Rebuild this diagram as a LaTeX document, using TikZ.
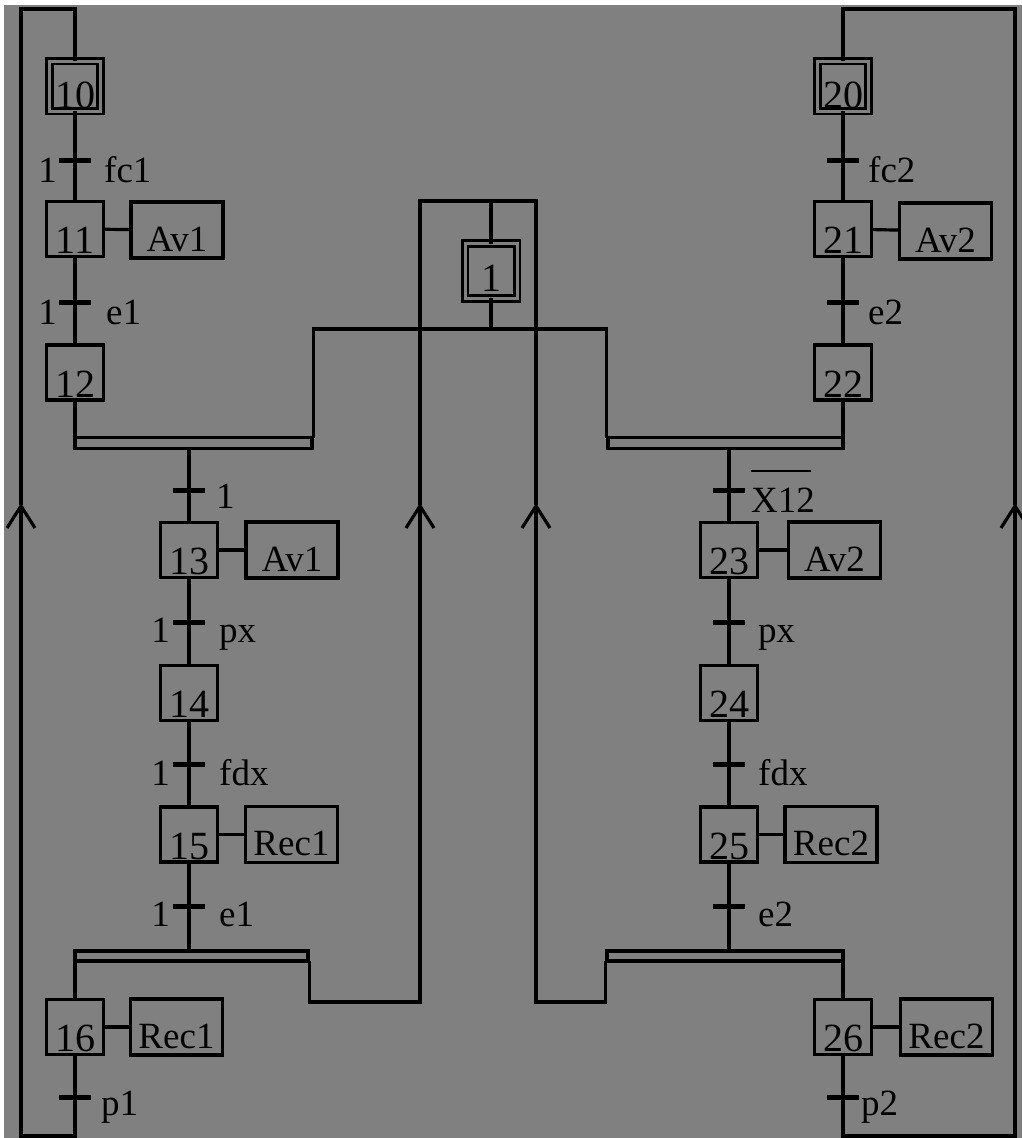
\documentclass[tikz,border=0pt]{standalone}
\usepackage{fontspec}
\setmainfont{Liberation Serif}
\usetikzlibrary{arrows.meta}
\definecolor{bggrey}{RGB}{128,128,128}
\tikzset{
  lw/.style={line width=3.2pt},
  stp/.style={draw, lw, inner sep=0pt, minimum width=57pt, text height=52pt, text depth=3pt, align=center,
     font=\fontsize{40}{44}\selectfont},
  initstp/.style={draw, line width=2.6pt, double=bggrey, double distance=3pt, inner sep=0pt,
     minimum width=51pt, text height=47pt, text depth=3pt, align=center, font=\fontsize{40}{44}\selectfont},
  act/.style={draw, lw, inner sep=0pt, minimum width=92pt, text height=49pt, text depth=7pt, align=center},
  tk/.style={fill=black, inner sep=0pt, minimum width=32pt, minimum height=5pt},
  bar/.style={draw, lw, inner sep=0pt, minimum height=11pt},
  rlab/.style={anchor=base west, inner sep=0pt},
  llab/.style={anchor=base east, inner sep=0pt},
  up/.style={lw, -{Straight Barb[length=22pt, width=28pt, line width=3.2pt]}},
}
\begin{document}
\begin{tikzpicture}[x=1pt, y=-1pt, font=\fontsize{37}{42}\selectfont, line cap=rect]
\useasboundingbox (0,0) rectangle (1022,1138);
\fill[white] (0,0) rectangle (1022,1138);
\fill[bggrey] (4,5) rectangle (1022,1138);

% ---------- steps ----------
\node[initstp] (s10) at (75,86) {10};
\node[stp] (s11) at (75,229) {11};
\node[stp] (s12) at (75,372.5) {12};
\node[stp] (s13) at (189,550) {13};
\node[stp] (s14) at (189,693) {14};
\node[stp] (s15) at (189,834.5) {15};
\node[stp] (s16) at (75,1027) {16};

\node[initstp] (s20) at (843,86) {20};
\node[stp] (s21) at (843,229) {21};
\node[stp] (s22) at (843,372.5) {22};
\node[stp] (s23) at (729,550) {23};
\node[stp] (s24) at (729,693) {24};
\node[stp] (s25) at (729,834.5) {25};
\node[stp] (s26) at (843,1027) {26};

\node[initstp, minimum width=52pt, text height=48pt, text depth=7pt] (s1) at (491,271) {1};

% ---------- actions ----------
\node[act] (a11) at (177,230) {Av1};
\node[act] (a13) at (292,550) {Av1};
\node[act] (a15) at (291.5,834.5) {Rec1};
\node[act] (a16) at (176.5,1027) {Rec1};
\node[act] (a21) at (945.5,231) {Av2};
\node[act] (a23) at (834.5,550) {Av2};
\node[act] (a25) at (831,834.5) {Rec2};
\node[act] (a26) at (946.5,1027) {Rec2};

\draw[lw] (s11) -- (a11);
\draw[lw] (s13) -- (a13);
\draw[lw] (s15) -- (a15);
\draw[lw] (s16) -- (a16);
\draw[lw] (s21) -- (a21);
\draw[lw] (s23) -- (a23);
\draw[lw] (s25) -- (a25);
\draw[lw] (s26) -- (a26);

% ---------- double bars ----------
\node[bar, minimum width=237pt] (j1) at (193.5,443) {};
\node[bar, minimum width=235pt] (j2) at (725.5,443) {};
\node[bar, minimum width=233pt, minimum height=10pt] (d1) at (191.5,956) {};
\node[bar, minimum width=236pt, minimum height=10pt] (d2) at (725,956) {};

% ---------- coordinates ----------
\coordinate (ct) at (491,201);
\coordinate (cb) at (491,329);
\coordinate (lbot) at (420,1002);
\coordinate (rbot) at (536,1002);
\coordinate (larr) at (420,503);
\coordinate (rarr) at (536,503);
\coordinate (obl) at (21,1136);
\coordinate (oal) at (21,503);
\coordinate (otl) at (21,9);
\coordinate (obr) at (1015,1136);
\coordinate (oar) at (1015,503);
\coordinate (otr) at (1015,9);

% ---------- links ----------
\draw[lw] (s10) -- (s11);
\draw[lw] (s11) -- (s12);
\draw[lw] (s12.south) -- (s12.south |- j1.north);
\draw[lw] (s13 |- j1.south) -- (s13);
\draw[lw] (s13) -- (s14);
\draw[lw] (s14) -- (s15);
\draw[lw] (s15.south) -- (s15.south |- d1.north);
\draw[lw] (s16.north |- d1.south) -- (s16.north);

\draw[lw] (s20) -- (s21);
\draw[lw] (s21) -- (s22);
\draw[lw] (s22.south) -- (s22.south |- j2.north);
\draw[lw] (s23.north |- j2.south) -- (s23.north);
\draw[lw] (s23) -- (s24);
\draw[lw] (s24) -- (s25);
\draw[lw] (s25.south) -- (s25.south |- d2.north);
\draw[lw] (s26.north |- d2.south) -- (s26.north);

% central step 1
\draw[lw] (s1) -- (cb);
\draw[lw] (j1.north east) |- (cb) -| (j2.north west);
\draw[lw] (ct) -- (s1);

% returns to step 1
\draw[lw] (d1.south east) |- (lbot);
\draw[up] (lbot) -- (larr);
\draw[lw] (larr) |- (ct);
\draw[lw] (d2.south west) |- (rbot);
\draw[up] (rbot) -- (rarr);
\draw[lw] (rarr) |- (ct);

% outer loops
\draw[lw] (s16) |- (obl);
\draw[up] (obl) -- (oal);
\draw[lw] (oal) -- (otl) -| (s10.north);
\draw[lw] (s26) |- (obr);
\draw[up] (obr) -- (oar);
\draw[lw] (oar) -- (otr) -| (s20.north);

% ---------- transitions ----------
\node[tk] (t10) at (75,160) {};
\node[tk] (t11) at (75,302) {};
\node[tk] (t12) at (189,490) {};
\node[tk] (t13) at (189,622) {};
\node[tk] (t14) at (189,764) {};
\node[tk] (t15) at (189,906) {};
\node[tk] (t16) at (75,1097) {};

\node[tk] (t20) at (843,160) {};
\node[tk] (t21) at (843,302) {};
\node[tk] (t22) at (729,490) {};
\node[tk] (t23) at (729,622) {};
\node[tk] (t24) at (729,764) {};
\node[tk] (t25) at (729,906) {};
\node[tk] (t26) at (843,1097) {};

% labels
\node[llab] (n10) at (57,182) {1};
\node[rlab] (c10) at (104,182) {fc1};
\node[llab] (n11) at (57,324) {1};
\node[rlab] (c11) at (106,324) {e1};
\node[rlab] (c12) at (216,508) {1};
\node[llab] (n13) at (170,642) {1};
\node[rlab] (c13) at (219,642) {px};
\node[llab] (n14) at (170,785) {1};
\node[rlab] (c14) at (219,785) {fdx};
\node[llab] (n15) at (170,926) {1};
\node[rlab] (c15) at (219,926) {e1};
\node[rlab] (c16) at (101,1115) {p1};

\node[rlab] (c20) at (868,182) {fc2};
\node[rlab] (c21) at (868,324) {e2};
\node[rlab] (c22) at (751,512) {\rlap{\rule[40pt]{60pt}{2.5pt}}X12};
\node[rlab] (c23) at (758,642) {px};
\node[rlab] (c24) at (758,785) {fdx};
\node[rlab] (c25) at (758,926) {e2};
\node[rlab] (c26) at (861,1115) {p2};
\end{tikzpicture}
\end{document}
